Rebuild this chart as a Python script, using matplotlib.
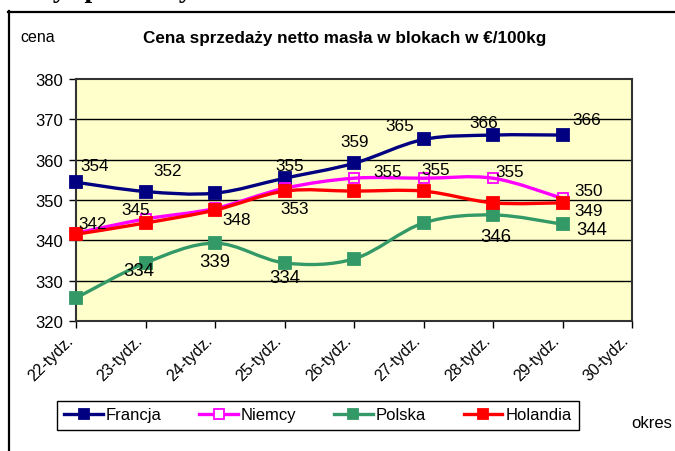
import matplotlib
matplotlib.use("Agg")
import matplotlib.pyplot as plt
from matplotlib.path import Path
from matplotlib.patches import PathPatch
from matplotlib.lines import Line2D
import matplotlib.transforms as mtrans
import numpy as np

plt.rcParams['font.family'] = ['Liberation Sans', 'DejaVu Sans']

categories = ["22-tydz.", "23-tydz.", "24-tydz.", "25-tydz.", "26-tydz.",
              "27-tydz.", "28-tydz.", "29-tydz.", "30-tydz."]
francja = [354.4, 352.1, 351.7, 355.4, 359.1, 365.0, 366.1, 366.1]
niemcy = [341.8, 345.3, 347.9, 352.9, 355.4, 355.4, 355.4, 350.4]
polska = [325.7, 334.4, 339.3, 334.4, 335.4, 344.3, 346.3, 344.0]
holandia = [341.5, 344.3, 347.5, 352.2, 352.2, 352.2, 349.3, 349.3]

# which points carry a data label (label text = rounded value)
francja_lab = [True, True, False, True, True, True, True, True]
niemcy_lab = [True, True, False, True, True, True, True, True]
polska_lab = [False, True, True, True, False, False, True, True]
holandia_lab = [False, False, True, False, False, False, False, True]

# label offsets in pixels (dx, dy up)
francja_off = [(19, 17), (22, 21), (0, 0), (5, 13), (1, 22), (-24, 14), (-9, 13), (24, 16)]
niemcy_off = [(17, 10), (-10, 9), (0, 0), (10, -20), (34, 7), (12, 9), (17, 7), (26, 8)]
polska_off = [(0, 0), (-7, -8), (0, -18), (0, -15), (0, 0), (0, 0), (3, -22), (29, -5)]
holandia_off = [(0, 0), (0, 0), (22, -9), (0, 0), (0, 0), (0, 0), (0, 0), (26, -8)]

W, H = 675, 452
fig = plt.figure(figsize=(W / 100, H / 100), dpi=100)
ax = fig.add_axes([76 / W, 1 - 322 / H, (632 - 76) / W, (322 - 80) / H])
ax.set_facecolor('#FFFFCC')
ax.set_xlim(0, len(categories) - 1)
ax.set_ylim(320, 380)
ax.set_yticks(np.arange(320, 381, 10))
for yv in range(330, 380, 10):
    ax.axhline(yv, color='black', lw=1.0, zorder=1)
for s in ax.spines.values():
    s.set_color('#333333')
    s.set_linewidth(1.5)

ax.set_xticks(range(len(categories)))
ax.set_xticklabels(categories, rotation=45, ha='right', fontsize=11.5)
off = mtrans.ScaledTranslation(4 / 72, 0, fig.dpi_scale_trans)
for lbl in ax.get_xticklabels():
    lbl.set_transform(lbl.get_transform() + off)
ax.tick_params(axis='both', direction='out', length=5, width=1, color='black')
ax.tick_params(axis='y', labelsize=12, pad=4)
ax.tick_params(axis='x', pad=3)


def smooth_path(xs, ys):
    xs = np.asarray(xs, float)
    ys = np.asarray(ys, float)
    n = len(xs)
    verts = [(xs[0], ys[0])]
    codes = [Path.MOVETO]
    for i in range(n - 1):
        i0 = max(i - 1, 0)
        i3 = min(i + 2, n - 1)
        c1 = (xs[i] + (xs[i + 1] - xs[i0]) / 6, ys[i] + (ys[i + 1] - ys[i0]) / 6)
        c2 = (xs[i + 1] - (xs[i3] - xs[i]) / 6, ys[i + 1] - (ys[i3] - ys[i]) / 6)
        verts += [c1, c2, (xs[i + 1], ys[i + 1])]
        codes += [Path.CURVE4] * 3
    return Path(verts, codes)


series = [
    ("Francja", francja, '#000080', '#000080', francja_lab, francja_off, 12.3),
    ("Niemcy", niemcy, '#FF00FF', 'none', niemcy_lab, niemcy_off, 12.3),
    ("Polska", polska, '#339966', '#339966', polska_lab, polska_off, 13.3),
    ("Holandia", holandia, '#FF0000', '#FF0000', holandia_lab, holandia_off, 12.3),
]
handles = []
for k, (name, vals, col, fc, labs, offs, fs) in enumerate(series):
    xs = np.arange(len(vals))
    patch = PathPatch(smooth_path(xs, vals), facecolor='none', edgecolor=col,
                      lw=2.4, zorder=3 + k, clip_on=False, capstyle='round', joinstyle='round')
    ax.add_patch(patch)
    ax.plot(xs, vals, linestyle='none', marker='s', markersize=8 if fc != 'none' else 7,
            markerfacecolor=fc, markeredgecolor=col, markeredgewidth=1.3,
            zorder=7 + k, clip_on=False)
    for i, v in enumerate(vals):
        if labs[i]:
            dx, dy = offs[i]
            ax.annotate(f"{round(v):d}", (xs[i], v), xytext=(dx * 0.72, dy * 0.72),
                        textcoords='offset points', ha='center', va='center',
                        fontsize=fs, color='black', zorder=20)
    handles.append(Line2D([], [], color=col, lw=2.4, marker='s', markersize=7,
                          markerfacecolor=fc if fc != 'none' else 'white',
                          markeredgecolor=col, markeredgewidth=1.3))

leg = fig.legend(handles, [s[0] for s in series], ncol=4, loc='center',
                 bbox_to_anchor=(318 / W, 1 - 416 / H), frameon=True, fancybox=False,
                 edgecolor='black', fontsize=12, handlelength=2.3, handletextpad=0.2,
                 columnspacing=2.25, borderpad=0.42, borderaxespad=0, framealpha=1)
leg.get_frame().set_linewidth(1.0)

fig.text(345 / W, 1 - 38 / H, "Cena sprzedaży netto masła w blokach w €/100kg",
         ha='center', va='center', fontsize=12.3, fontweight='bold')
fig.text(20 / W, 1 - 42 / H, "cena", ha='left', va='baseline', fontsize=11.5)
fig.text(631 / W, 1 - 428 / H, "okres", ha='left', va='baseline', fontsize=12)

# cut-off heading above the chart frame
fig.text(5 / W, 1 + 3 / H, "Ceny sprzedaży", ha='left', va='baseline', fontsize=20,
         fontweight='bold', family=['Liberation Serif', 'DejaVu Serif'])

# outer chart frame
fig.add_artist(Line2D([8.5 / W, 8.5 / W], [0, 1 - 12 / H], transform=fig.transFigure,
                      color='black', lw=1.6))
fig.add_artist(Line2D([8 / W, 1], [1 - 12.5 / H, 1 - 12.5 / H], transform=fig.transFigure,
                      color='black', lw=1.6))

fig.savefig("out.png", dpi=100)
